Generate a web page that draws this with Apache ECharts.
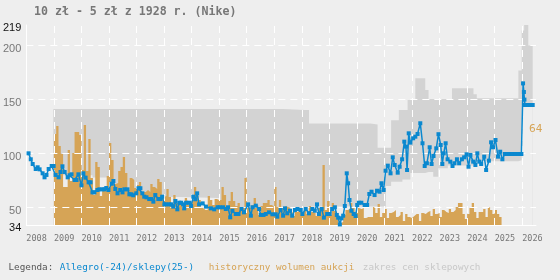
<!DOCTYPE html>
<html><head><meta charset="utf-8">
<script src="https://cdn.jsdelivr.net/npm/echarts@6/dist/echarts.min.js"></script>
<style>html,body{margin:0;padding:0;background:#eeeeee}#c{width:560px;height:280px}</style>
</head><body><div id="c"></div>
<script>
const titleText = '10 zł - 5 zł z 1928 r. (Nike)';
const endLabel = '64';
const yMin = 34, yMax = 219;
const xMin = 2008, xMax = 2026.5;
const gridYears = [2009,2010,2011,2012,2013,2014,2015,2016,2017,2018,2019,2020,2021,2022,2023,2024,2025,2026];
const gridValues = [50,100,150,200];

// Allegro / shops price line (decimal year, price)
const allegroT = [2008.08,2008.16,2008.23,2008.34,2008.41,2008.48,2008.59,2008.66,2008.73,2008.81,2008.92,2008.99,
2009.06,2009.17,2009.24,2009.31,2009.39,2009.50,2009.57,2009.64,2009.75,2009.82,2009.89,
2010.00,2010.07,2010.15,2010.26,2010.33,2010.40,2010.47,2010.58,2010.65,2010.76,2010.83,2010.90,2010.98,
2011.09,2011.16,2011.23,2011.31,2011.41,2011.49,2011.56,2011.67,2011.74,2011.81,2011.88,2011.99,
2012.07,2012.14,2012.21,2012.28,2012.36,2012.46,2012.54,2012.61,2012.68,2012.79,2012.86,2012.93,
2013.01,2013.08,2013.19,2013.26,2013.33,2013.41,2013.48,2013.55,2013.62,2013.69,2013.73,2013.80,2013.91,2013.98,
2014.06,2014.13,2014.20,2014.27,2014.40,2014.52,2014.70,2014.82,2014.94,
2015.02,2015.14,2015.24,2015.32,2015.40,2015.48,2015.60,2015.70,2015.81,2015.90,
2016.05,2016.15,2016.21,2016.33,2016.45,2016.51,2016.61,2016.69,2016.81,2016.93,
2017.05,2017.11,2017.23,2017.32,2017.39,2017.47,2017.57,2017.65,2017.75,2017.84,2017.96,
2018.02,2018.14,2018.26,2018.38,2018.47,2018.55,2018.62,2018.72,2018.80,2018.92,
2019.01,2019.10,2019.20,2019.27,2019.32,2019.38,2019.44,2019.50,2019.56,2019.63,2019.68,2019.73,2019.80,2019.88,2019.95,
2020.01,2020.07,2020.16,2020.28,2020.37,2020.45,2020.53,2020.64,2020.73,2020.82,2020.89,2020.97,
2021.04,2021.12,2021.22,2021.30,2021.37,2021.48,2021.55,2021.64,2021.72,2021.78,2021.82,2021.88,2021.94,
2022.04,2022.12,2022.20,2022.30,2022.38,2022.46,2022.54,2022.64,2022.71,2022.78,2022.88,2022.96,
2023.04,2023.10,2023.15,2023.22,2023.29,2023.39,2023.47,2023.54,2023.63,2023.71,2023.81,2023.89,2023.98,
2024.05,2024.12,2024.22,2024.30,2024.37,2024.44,2024.51,2024.62,2024.69,2024.79,2024.87,2024.94,
2025.03,2025.12,2025.20,2025.28,2025.37,2025.45,2025.55,2025.65,2025.75,2025.85,2025.97,
2026.03,2026.06,2026.08,2026.10,2026.17,2026.24,2026.31,2026.38];
const allegroV = [100.3,94.8,90.4,85.8,87.4,85.5,81.8,78.1,80.3,85.8,88.6,88.6,
80.3,78.1,83,88.3,83,78.1,80,80.9,75.6,75.6,80.9,
70.7,81.8,77.8,73.5,73.5,64.2,64.2,66.4,67,67,67,68.2,66.4,
72.2,74.7,67.3,63.3,66.4,64.2,67,67,62.4,62.4,61.5,63.3,
68,68,63.3,60.2,59.6,58,58,55.6,61.7,58,58,60.2,
53.1,53.1,53.1,53.1,51,56.2,48.5,54.6,54.6,53.1,49.4,54.6,54.6,51.6,
60.2,57.8,63.3,53.1,54,51,49.4,48.5,50.4,
50.4,50.4,48.8,50.4,41.1,47.2,44.2,44.2,48.8,45.7,
53.1,42.6,50.4,51.9,48.8,43.3,43.3,44.2,45.7,43.9,
43.9,41.7,47.9,42.6,49.4,44.8,47.2,42.6,47.9,48.8,47.9,
44.2,48.8,44.8,48.8,47.2,53.1,44.2,48.8,40.8,44.2,
44.2,48.8,50.4,43.3,40.8,34.5,40.2,42.6,51.6,81.8,72.6,57.1,47.2,44.2,42.3,
52.5,54.6,54.6,52.5,52.5,62.7,64.8,61.7,65.7,64.8,72.6,66.4,
84.2,88.9,81.8,96.6,89.5,82.4,87.9,94.8,111.1,106.5,84.9,118.8,110.2,
114.2,115.7,118.2,128.1,109.6,88.6,91.1,105.9,90.4,97.8,104.9,118,
108,90.4,100.3,109.6,94.8,92.6,88.6,91.1,94.8,91.1,94.8,96.6,99.4,
87.9,98.8,92.6,89.5,100.3,92.6,90.4,97.2,84.9,93.5,110.5,105.9,
112.6,97.2,101.8,94.8,99.7,99.7,99.7,99.7,99.7,99.7,99.7,
165,157,150,145,145,145,145,145];

// shop price range (step changes at these dates)
const rangeT    = [2008.98,2010.40,2010.98,2011.60,2012.50,2013.60,2015.00,2017.33,2018.10,2018.26,2020.49,2020.75,2021.05,2021.24,2021.52,2021.65,2021.84,2021.94,2022.12,2022.48,2022.60,2022.77,2022.95,2023.30,2023.45,2024.23,2024.35,2025.86,2025.98,2026.07,2026.22,2026.38];
const rangeLow  = [80,78,68,64,60,59,50,50,51,51,51,51,70,74,74,76,76,82,82,83,83,78.7,86.4,89,89,89,93,94,145,145,145,145];
const rangeHigh = [141.3,141.3,141.3,141.3,141.3,141.3,141.3,140.4,140.4,128,127,105.5,105.5,131,140.4,140.4,149.6,149.6,169.7,158.9,150.5,150.5,150.5,150.5,160.4,155,151.2,177,214,219,200,200];

// monthly historical auction volume, starting Jan 2009
const volumeStartYear = 2009;
const volume = [91,99,79,71,38,38,75,44,72,93,93,90,55,100,54,86,47,30,63,58,29,35,35,49,82,65,41,42,54,58,68,52,35,47,45,37,40,43,33,33,35,33,41,38,36,46,43,28,29,36,28,21,30,22,22,20,16,27,24,21,25,38,29,25,
17,15,15,29,25,20,26,25,25,38,30,16,24,33,24,19,22,17,17,47,18,17,20,27,20,10,19,22,22,25,20,18,38,18,25,17,19,18,17,13,9,13,14,16,12,16,11,19,13,12,9,17,17,60,15,24,10,22,14,9,2,3,10,15,16,22,18,13,17,16,17,7,8,8,8,18,
12,21,8,12,16,7,12,13,15,8,10,13,4,11,8,7,9,11,11,4,12,11,13,14,9,16,11,12,8,15,13,12,16,13,15,18,22,22,11,6,11,17,22,13,7,13,13,16,8,18,15,11,15,11,8];

const legendLabel = 'Legenda:';
const legendItems = ['Allegro(-24)/sklepy(25-)', 'historyczny wolumen aukcji', 'zakres cen sklepowych'];

const C_BG = '#eeeeee', C_BLUE = '#0a88cf', C_ORANGE = '#d6a456', C_GRAY = '#d3d3d3';

const lineData = allegroT.map((t, i) => [t, allegroV[i]]);
const lowData = rangeT.map((t, i) => [t, rangeLow[i]]);
const highData = rangeT.map((t, i) => [t, rangeHigh[i]]);
const volData = volume.map((v, i) => [volumeStartYear + i / 12, v]);
volData.push([volumeStartYear + volume.length / 12, volume[volume.length - 1]]);
const gridMarks = gridYears.map(y => ({xAxis: y})).concat(gridValues.map(v => ({yAxis: v})));

const chart = echarts.init(document.getElementById('c'), null, {renderer: 'canvas'});
const monoFont = '"DejaVu Sans Mono", monospace';
chart.setOption({
  backgroundColor: C_BG,
  animation: false,
  grid: {left: 25, right: 24, top: 25, bottom: 55, containLabel: false},
  xAxis: {
    type: 'value', min: xMin, max: xMax, interval: 1,
    axisLine: {show: true, lineStyle: {color: '#ffffff', width: 1}},
    axisTick: {show: false},
    splitLine: {show: false},
    axisLabel: {
      align: 'left', margin: 9, fontFamily: monoFont, fontSize: 8.5, color: '#777',
      showMaxLabel: false,
      formatter: v => Number.isInteger(v) ? String(v) : ''
    }
  },
  yAxis: [{
    type: 'value', min: yMin, max: yMax, splitNumber: 4,
    axisLine: {show: true, lineStyle: {color: '#ffffff', width: 1}},
    axisTick: {show: false},
    splitLine: {show: false},
    axisLabel: {
      margin: 5, fontFamily: '"Liberation Sans", sans-serif', fontSize: 11, color: '#777',
      padding: [6, 0, 0, 0],
      formatter: v => (v === yMin || v === yMax) ? '{e|' + v + '}' : String(v),
      rich: {e: {color: '#111', fontFamily: '"Liberation Sans", sans-serif', fontSize: 11}}
    }
  }, {
    type: 'value', min: 0, max: 200, show: false
  }],
  series: [
    {type: 'line', name: 'high', data: highData, step: 'end', showSymbol: false, z: 1,
     lineStyle: {width: 0, opacity: 0}, areaStyle: {color: C_GRAY, opacity: 1, origin: 'start'}, silent: true},
    {type: 'line', name: 'low', data: lowData, step: 'end', showSymbol: false, z: 2,
     lineStyle: {width: 0, opacity: 0}, areaStyle: {color: C_BG, opacity: 1, origin: 'start'}, silent: true},
    {type: 'line', name: 'vol', data: volData, yAxisIndex: 1, step: 'end', showSymbol: false, z: 3,
     lineStyle: {width: 0, opacity: 0}, areaStyle: {color: C_ORANGE, opacity: 1}, silent: true},
    {type: 'line', name: 'grid', data: [], z: 4, silent: true,
     markLine: {silent: true, symbol: ['none', 'none'], label: {show: false}, animation: false,
       lineStyle: {color: '#ffffff', width: 1, type: [7, 5], opacity: 1},
       emphasis: {disabled: true}, data: gridMarks}},
    {type: 'line', name: 'allegro', data: lineData, z: 6, showAllSymbol: true,
     symbol: 'rect', symbolSize: 4, itemStyle: {color: C_BLUE},
     lineStyle: {color: C_BLUE, width: 1.5}, silent: true}
  ],
  graphic: [
    {type: 'text', x: 34, y: 12, z: 10, style: {text: titleText, fontFamily: monoFont, fontWeight: 'bold', fontSize: 11.6, fill: '#777', verticalAlign: 'middle'}},
    {type: 'text', x: 529, y: 129, z: 10, style: {text: endLabel, fontFamily: '"DejaVu Sans", sans-serif', fontSize: 10.5, fill: C_ORANGE, verticalAlign: 'middle'}},
    {type: 'text', x: 8.5, y: 268, z: 10, style: {text: legendLabel, fontFamily: monoFont, fontSize: 9.3, fill: '#555', verticalAlign: 'middle'}},
    {type: 'text', x: 59.8, y: 268, z: 10, style: {text: legendItems[0], fontFamily: monoFont, fontSize: 9.3, fill: C_BLUE, verticalAlign: 'middle'}},
    {type: 'text', x: 208.8, y: 268, z: 10, style: {text: legendItems[1], fontFamily: monoFont, fontSize: 9.3, fill: C_ORANGE, verticalAlign: 'middle'}},
    {type: 'text', x: 362.8, y: 268, z: 10, style: {text: legendItems[2], fontFamily: monoFont, fontSize: 9.3, fill: '#c8c8c8', verticalAlign: 'middle'}}
  ]
});
</script></body></html>
